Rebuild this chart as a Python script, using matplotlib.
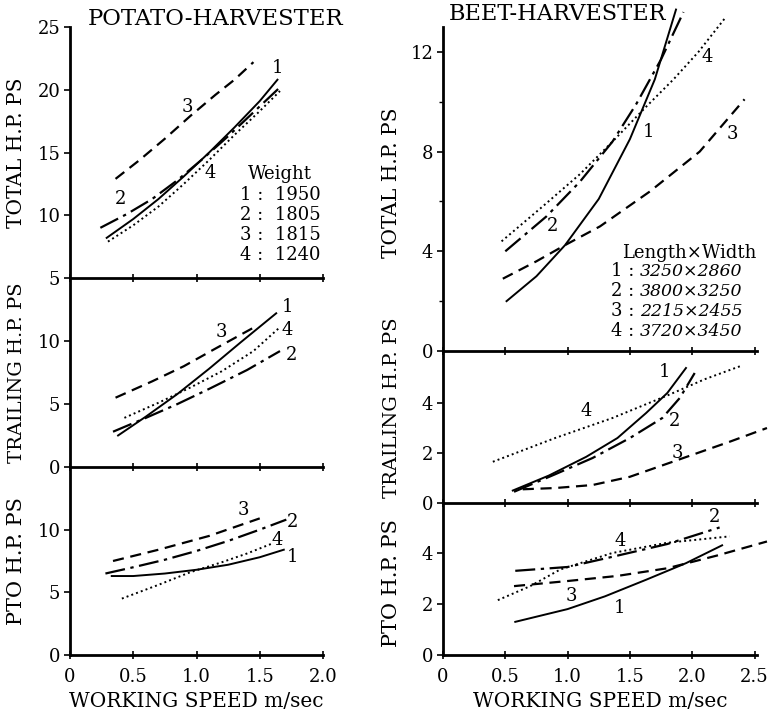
import matplotlib
matplotlib.use('Agg')
import matplotlib.pyplot as plt

plt.rcParams['font.family'] = ['DejaVu Serif']
plt.rcParams['mathtext.fontset'] = 'dejavuserif'

# ---------------- potato harvester ----------------
pot_total_x1 = [0.29, 0.5, 0.7, 0.9, 1.1, 1.3, 1.5, 1.64]
pot_total_y1 = [8.2, 9.7, 11.3, 13.1, 15.0, 17.0, 19.1, 20.8]
pot_total_x2 = [0.24, 0.45, 0.65, 0.85, 1.05, 1.25, 1.45, 1.66]
pot_total_y2 = [9.0, 10.1, 11.3, 12.8, 14.5, 16.3, 18.2, 20.2]
pot_total_x3 = [0.36, 0.55, 0.75, 0.95, 1.15, 1.3, 1.45]
pot_total_y3 = [12.9, 14.4, 16.1, 17.9, 19.6, 20.8, 22.2]
pot_total_x4 = [0.3, 0.5, 0.7, 0.9, 1.1, 1.3, 1.5, 1.66]
pot_total_y4 = [7.9, 9.2, 10.7, 12.5, 14.4, 16.4, 18.3, 19.9]

pot_trail_x1 = [0.38, 0.6, 0.85, 1.1, 1.35, 1.63]
pot_trail_y1 = [2.5, 4.0, 5.8, 7.8, 9.9, 12.2]
pot_trail_x2 = [0.34, 0.6, 0.85, 1.1, 1.4, 1.66]
pot_trail_y2 = [2.8, 3.9, 5.0, 6.2, 7.7, 9.2]
pot_trail_x3 = [0.36, 0.65, 0.9, 1.15, 1.44]
pot_trail_y3 = [5.5, 6.8, 8.0, 9.4, 11.0]
pot_trail_x4 = [0.43, 0.7, 0.95, 1.2, 1.45, 1.66]
pot_trail_y4 = [3.9, 5.1, 6.3, 7.6, 9.2, 11.1]

pot_pto_x1 = [0.33, 0.5, 0.75, 1.0, 1.25, 1.5, 1.69]
pot_pto_y1 = [6.3, 6.3, 6.5, 6.8, 7.2, 7.8, 8.4]
pot_pto_x2 = [0.28, 0.5, 0.75, 1.0, 1.25, 1.5, 1.71]
pot_pto_y2 = [6.5, 7.0, 7.6, 8.3, 9.1, 10.0, 10.8]
pot_pto_x3 = [0.34, 0.7, 1.1, 1.5]
pot_pto_y3 = [7.5, 8.4, 9.5, 10.9]
pot_pto_x4 = [0.41, 0.7, 0.95, 1.2, 1.4, 1.6]
pot_pto_y4 = [4.5, 5.6, 6.6, 7.4, 8.1, 8.9]

# ---------------- beet harvester ----------------
beet_total_x1 = [0.51, 0.75, 0.98, 1.25, 1.5, 1.7, 1.87]
beet_total_y1 = [2.0, 3.0, 4.25, 6.1, 8.5, 10.9, 13.7]
beet_total_x2 = [0.5, 0.83, 1.1, 1.36, 1.55, 1.75, 1.93]
beet_total_y2 = [4.0, 5.4, 6.8, 8.4, 9.9, 11.7, 13.6]
beet_total_x3 = [0.48, 0.75, 0.98, 1.26, 1.66, 2.06, 2.42]
beet_total_y3 = [2.9, 3.6, 4.25, 5.0, 6.4, 8.0, 10.1]
beet_total_x4 = [0.47, 0.8, 1.1, 1.36, 1.63, 1.85, 2.05, 2.27]
beet_total_y4 = [4.4, 5.8, 7.1, 8.4, 9.8, 10.9, 12.0, 13.4]

beet_trail_x1 = [0.56, 0.85, 1.15, 1.4, 1.63, 1.8, 1.95]
beet_trail_y1 = [0.5, 1.1, 1.85, 2.6, 3.6, 4.4, 5.4]
beet_trail_x2 = [0.57, 0.9, 1.2, 1.5, 1.76, 1.9, 2.02]
beet_trail_y2 = [0.45, 1.15, 1.8, 2.6, 3.4, 4.2, 5.2]
beet_trail_x3 = [0.64, 0.9, 1.2, 1.5, 1.9, 2.3, 2.6]
beet_trail_y3 = [0.55, 0.6, 0.72, 1.05, 1.75, 2.45, 3.0]
beet_trail_x4 = [0.40, 0.9, 1.36, 1.8, 2.1, 2.4]
beet_trail_y4 = [1.65, 2.6, 3.4, 4.3, 4.95, 5.5]

beet_pto_x1 = [0.58, 1.0, 1.3, 1.63, 1.95, 2.24]
beet_pto_y1 = [1.3, 1.8, 2.3, 2.95, 3.6, 4.3]
beet_pto_x2 = [0.58, 1.0, 1.36, 1.8, 2.22]
beet_pto_y2 = [3.3, 3.45, 3.85, 4.35, 5.0]
beet_pto_x3 = [0.57, 1.0, 1.4, 1.8, 2.2, 2.6]
beet_pto_y3 = [2.7, 2.9, 3.1, 3.4, 3.9, 4.45]
beet_pto_x4 = [0.44, 0.7, 0.94, 1.36, 1.8, 2.3]
beet_pto_y4 = [2.15, 2.7, 3.35, 4.0, 4.4, 4.65]

# curve number labels: (number, x, y)
pot_total_labels = [('1', 1.64, 21.7), ('2', 0.40, 11.3), ('3', 0.93, 18.6), ('4', 1.11, 13.4)]
pot_trail_labels = [('1', 1.72, 12.7), ('2', 1.75, 8.9), ('3', 1.20, 10.7), ('4', 1.72, 10.9)]
pot_pto_labels = [('1', 1.76, 7.8), ('2', 1.76, 10.6), ('3', 1.37, 11.6), ('4', 1.64, 9.2)]
beet_total_labels = [('1', 1.65, 8.8), ('2', 0.88, 5.0), ('3', 2.32, 8.7), ('4', 2.12, 11.8)]
beet_trail_labels = [('1', 1.78, 5.25), ('2', 1.86, 3.3), ('3', 1.88, 2.0), ('4', 1.15, 3.7)]
beet_pto_labels = [('1', 1.42, 1.85), ('2', 2.18, 5.4), ('3', 1.03, 2.3), ('4', 1.42, 4.45)]

pot_weights = ['1 :  1950', '2 :  1805', '3 :  1815', '4 :  1240']
beet_sizes = ['3250\u00d72860', '3800\u00d73250', '2215\u00d72455', '3720\u00d73450']

# line style of curve 1..4
styles = {
    1: dict(ls='-', lw=1.4),
    2: dict(ls=(0, (9, 2.5, 1.5, 2.5)), lw=1.6),
    3: dict(ls=(0, (5, 3)), lw=1.6),
    4: dict(ls=(0, (1, 1.6)), lw=1.4),
}


def panel(fig, rect, xlim, ylim, yticks, minor, curves, labels, xlabels=False):
    ax = fig.add_axes(rect)
    for i, (xs, ys) in enumerate(curves, start=1):
        ax.plot(xs, ys, color='black', clip_on=False, **styles[i])
    for txt, x, y in labels:
        ax.text(x, y, txt, fontsize=13, ha='center', va='center')
    ax.set_xlim(*xlim)
    ax.set_ylim(*ylim)
    ax.set_yticks(yticks)
    ax.set_yticks(minor, minor=True)
    ax.spines['top'].set_visible(False)
    ax.spines['right'].set_visible(False)
    ax.spines['left'].set_linewidth(2)
    ax.spines['bottom'].set_linewidth(2)
    ax.tick_params(axis='y', which='major', direction='out', length=4, width=1.2, labelsize=13, pad=3)
    ax.tick_params(axis='y', which='minor', direction='out', length=3, width=1.0)
    ax.tick_params(axis='x', direction='inout', length=6, width=1.2, labelsize=13,
                   labelbottom=xlabels, pad=6)
    ax.patch.set_alpha(0)
    return ax


fig = plt.figure(figsize=(7.72, 7.24), dpi=100)

L = 70 / 772
W = 253 / 772
R = 443 / 772
RW = 314 / 772

# left column
ax = panel(fig, [L, 0.616, W, 0.3467], (0, 2.0), (5, 25), [5, 10, 15, 20, 25], [],
           [(pot_total_x1, pot_total_y1), (pot_total_x2, pot_total_y2),
            (pot_total_x3, pot_total_y3), (pot_total_x4, pot_total_y4)], pot_total_labels)
ax.set_xticks([0, 0.5, 1.0, 1.5, 2.0])
ax.set_ylabel('TOTAL H.P. PS', fontsize=14.5, labelpad=8)
ax.text(0.575, 1.03, 'POTATO-HARVESTER', transform=ax.transAxes, fontsize=16.4,
        ha='center', va='center')
ax.text(1.66, 13.3, 'Weight', fontsize=13, ha='center', va='center')
for k, s in enumerate(pot_weights):
    ax.text(1.66, 11.6 - 1.6 * k, s, fontsize=13, ha='center', va='center')

ax = panel(fig, [L, 0.355, W, 0.261], (0, 2.0), (0, 15), [0, 5, 10], [],
           [(pot_trail_x1, pot_trail_y1), (pot_trail_x2, pot_trail_y2),
            (pot_trail_x3, pot_trail_y3), (pot_trail_x4, pot_trail_y4)], pot_trail_labels)
ax.set_xticks([0, 0.5, 1.0, 1.5, 2.0])
ax.set_ylabel('TRAILING H.P. PS', fontsize=14, labelpad=8)

ax = panel(fig, [L, 0.0953, W, 0.2597], (0, 2.0), (0, 15), [0, 5, 10], [],
           [(pot_pto_x1, pot_pto_y1), (pot_pto_x2, pot_pto_y2),
            (pot_pto_x3, pot_pto_y3), (pot_pto_x4, pot_pto_y4)], pot_pto_labels, xlabels=True)
ax.set_xticks([0, 0.5, 1.0, 1.5, 2.0])
ax.set_xticklabels(['0', '0.5', '1.0', '1.5', '2.0'])
ax.set_ylabel('PTO H.P. PS', fontsize=15, labelpad=8)
ax.set_xlabel('WORKING SPEED m/sec', fontsize=14.5, labelpad=5)

# right column
ax = panel(fig, [R, 0.5152, RW, 0.4475], (0, 2.52), (0, 13), [0, 4, 8, 12], [2, 6, 10],
           [(beet_total_x1, beet_total_y1), (beet_total_x2, beet_total_y2),
            (beet_total_x3, beet_total_y3), (beet_total_x4, beet_total_y4)], beet_total_labels)
ax.set_xticks([0, 0.5, 1.0, 1.5, 2.0, 2.5])
ax.set_ylabel('TOTAL H.P. PS', fontsize=14.5, labelpad=8)
ax.yaxis.set_label_coords(-0.135, 0.52)
ax.text(0.365, 1.005, 'BEET-HARVESTER', transform=ax.transAxes, fontsize=16.2,
        ha='center', va='bottom')
ax.text(1.98, 3.95, 'Length\u00d7Width', fontsize=13, ha='center', va='center')
for k, s in enumerate(beet_sizes):
    ax.text(1.35, 3.2 - 0.8 * k, '%d :' % (k + 1), fontsize=13, ha='left', va='center')
    ax.text(1.58, 3.2 - 0.8 * k, s, fontsize=12.5, ha='left', va='center', style='italic')

ax = panel(fig, [R, 0.3052, RW, 0.21], (0, 2.52), (0, 6.08), [0, 2, 4], [],
           [(beet_trail_x1, beet_trail_y1), (beet_trail_x2, beet_trail_y2),
            (beet_trail_x3, beet_trail_y3), (beet_trail_x4, beet_trail_y4)], beet_trail_labels)
ax.set_xticks([0, 0.5, 1.0, 1.5, 2.0, 2.5])
ax.set_ylabel('TRAILING H.P. PS', fontsize=14, labelpad=8)
ax.yaxis.set_label_coords(-0.135, 0.63)

ax = panel(fig, [R, 0.0953, RW, 0.21], (0, 2.52), (0, 5.96), [0, 2, 4], [],
           [(beet_pto_x1, beet_pto_y1), (beet_pto_x2, beet_pto_y2),
            (beet_pto_x3, beet_pto_y3), (beet_pto_x4, beet_pto_y4)], beet_pto_labels, xlabels=True)
ax.set_xticks([0, 0.5, 1.0, 1.5, 2.0, 2.5])
ax.set_xticklabels(['0', '0.5', '1.0', '1.5', '2.0', '2.5'])
ax.set_ylabel('PTO H.P. PS', fontsize=15, labelpad=8)
ax.yaxis.set_label_coords(-0.135, 0.47)
ax.set_xlabel('WORKING SPEED m/sec', fontsize=14.5, labelpad=5)

fig.savefig('out.png', dpi=100)
